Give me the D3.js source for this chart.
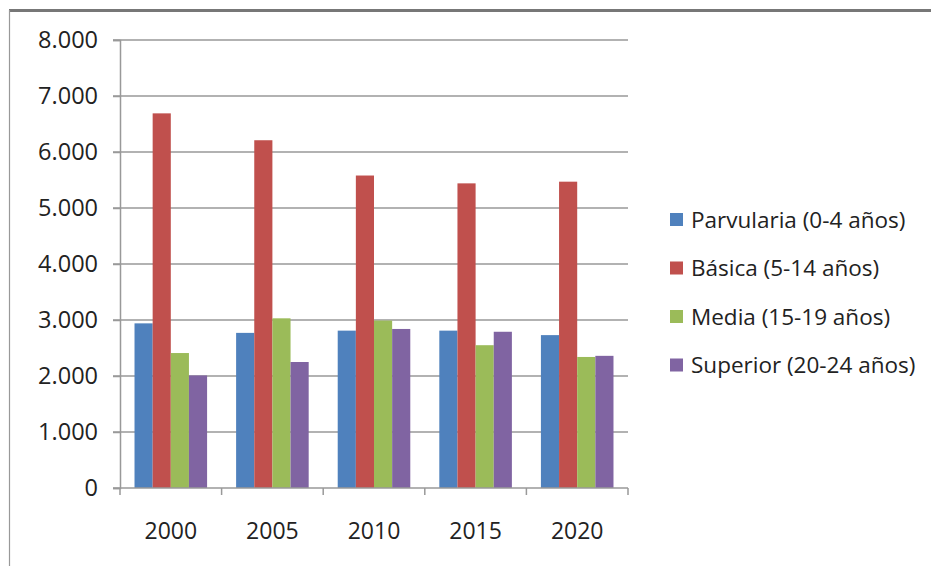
<!DOCTYPE html>
<html lang="es">
<head>
<meta charset="utf-8">
<title>Matrícula por nivel</title>
<script src="https://d3js.org/d3.v7.min.js"></script>
<style>
  body { margin: 0; background: #fff; }
  svg text { font-family: 'Open Sans', sans-serif; fill: #222; }
</style>
</head>
<body>
<div id="chart"></div>
<script>
// data (thousands shown as 1.000 etc.)
var years = ["2000", "2005", "2010", "2015", "2020"];
var series = ["Parvularia (0-4 años)", "Básica (5-14 años)", "Media (15-19 años)", "Superior (20-24 años)"];
var parvularia = [2940, 2770, 2810, 2810, 2730];
var basica     = [6690, 6210, 5580, 5440, 5470];
var media      = [2410, 3030, 2990, 2550, 2340];
var superior   = [2010, 2250, 2840, 2790, 2360];
var yTicks = [0, 1000, 2000, 3000, 4000, 5000, 6000, 7000, 8000];
var colors = ["#4F81BD", "#C0504D", "#9BBB59", "#8064A2"];

var values = [parvularia, basica, media, superior];

var width = 931, height = 566;
var svg = d3.select("#chart").append("svg")
  .attr("width", width)
  .attr("height", height);

// frame of the chart (cropped on right and bottom)
svg.append("line").attr("x1", 9).attr("x2", width).attr("y1", 10.5).attr("y2", 10.5)
  .attr("stroke", "#777").attr("stroke-width", 3);
svg.append("line").attr("x1", 9.5).attr("x2", 9.5).attr("y1", 10).attr("y2", height)
  .attr("stroke", "#999").attr("stroke-width", 1.2);

var x = d3.scaleBand().domain(years).range([120, 628]).padding(0);
var xs = d3.scaleBand().domain(d3.range(series.length))
  .range([0, x.bandwidth()]).paddingInner(0).paddingOuter(0.8);
var y = d3.scaleLinear().domain([0, 8000]).range([488, 40]);

var fmt = function(d) { return d3.format(",")(d).replace(/,/g, "."); };

// gridlines
svg.append("g")
  .selectAll("line")
  .data(yTicks.filter(d => d > 0))
  .join("line")
    .attr("x1", 113).attr("x2", 628)
    .attr("y1", d => y(d)).attr("y2", d => y(d))
    .attr("stroke", "#999").attr("stroke-width", 1.5);

// y axis
var yAxis = svg.append("g")
  .attr("transform", "translate(120,0)")
  .call(d3.axisLeft(y).tickValues(yTicks).tickFormat(fmt).tickSize(7).tickPadding(15));
yAxis.select(".domain").attr("stroke", "#999").attr("stroke-width", 1.5);
yAxis.selectAll(".tick line").attr("stroke", "#999").attr("stroke-width", 1.5);
yAxis.selectAll("text").style("font-size", "23.5px").attr("fill", "#222");

// bars
var group = svg.append("g").selectAll("g")
  .data(years)
  .join("g")
    .attr("transform", d => "translate(" + x(d) + ",0)");

group.selectAll("rect")
  .data((d, i) => values.map((v, s) => ({ s: s, v: v[i] })))
  .join("rect")
    .attr("x", d => xs(d.s))
    .attr("width", xs.bandwidth())
    .attr("y", d => y(d.v))
    .attr("height", d => y(0) - y(d.v))
    .attr("fill", d => colors[d.s]);

// x axis
svg.append("line").attr("x1", 113).attr("x2", 628).attr("y1", y(0)).attr("y2", y(0))
  .attr("stroke", "#999").attr("stroke-width", 1.5);
var bounds = years.map(d => x(d)).concat([x.range()[1]]);
svg.append("g").selectAll("line")
  .data(bounds)
  .join("line")
    .attr("x1", d => d).attr("x2", d => d)
    .attr("y1", y(0)).attr("y2", y(0) + 7)
    .attr("stroke", "#999").attr("stroke-width", 1.5);
svg.append("g").selectAll("text")
  .data(years)
  .join("text")
    .attr("x", d => x(d) + x.bandwidth() / 2)
    .attr("y", 539)
    .attr("text-anchor", "middle")
    .style("font-size", "23px")
    .text(d => d);

// legend
var legend = svg.append("g").selectAll("g")
  .data(series)
  .join("g")
    .attr("transform", (d, i) => "translate(670," + (220 + i * 48.5) + ")");
legend.append("rect")
  .attr("x", 0).attr("y", -7).attr("width", 13).attr("height", 13)
  .attr("fill", (d, i) => colors[i]);
legend.append("text")
  .attr("x", 21).attr("y", 0).attr("dy", "0.35em")
  .style("font-size", "22.5px")
  .text(d => d);
</script>
</body>
</html>
